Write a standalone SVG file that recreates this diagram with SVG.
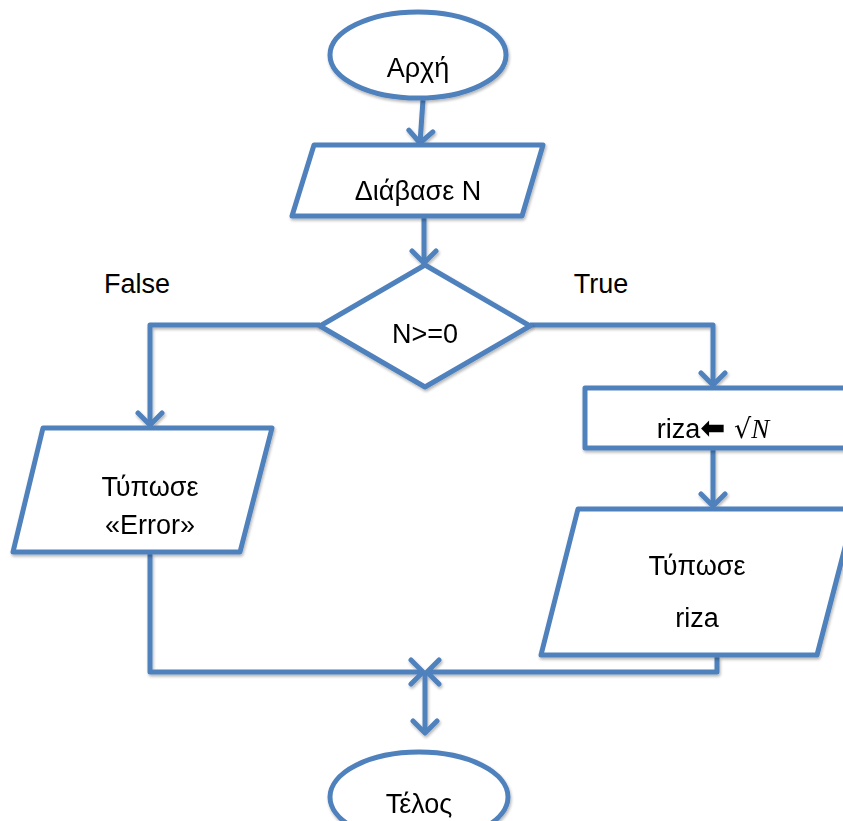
<svg xmlns="http://www.w3.org/2000/svg" width="843" height="821" viewBox="0 0 843 821">
<style>
.s{fill:#fff;stroke:#4f81bd;stroke-width:5;stroke-linejoin:round}
.c{fill:none;stroke:#4f81bd;stroke-width:5;stroke-linejoin:round}
text{font-family:"Liberation Sans","DejaVu Sans",sans-serif;font-size:27px;fill:#000;text-anchor:middle}
</style>
<defs>
<filter id="sh" x="-10%" y="-10%" width="130%" height="130%">
<feGaussianBlur in="SourceAlpha" stdDeviation="1.5"/>
<feOffset dx="1" dy="2" result="b"/>
<feComponentTransfer><feFuncA type="linear" slope="0.3"/></feComponentTransfer>
<feMerge><feMergeNode/><feMergeNode in="SourceGraphic"/></feMerge>
</filter>
<marker id="ah" markerUnits="userSpaceOnUse" markerWidth="30" markerHeight="30" refX="15" refY="15" orient="auto" viewBox="0 0 30 30">
<path d="M3,3 L15,15 L3,27" fill="none" stroke="#4f81bd" stroke-width="5" stroke-linecap="round" stroke-linejoin="round"/>
</marker>
</defs>
<g id="connectors" filter="url(#sh)">
<path class="c" d="M423,100 L420,143" marker-end="url(#ah)"/>
<path class="c" d="M424,218 L424,263" marker-end="url(#ah)"/>
<path class="c" d="M320,325 L150,325 L150,425" marker-end="url(#ah)"/>
<path class="c" d="M530,325 L713,325 L713,385" marker-end="url(#ah)"/>
<path class="c" d="M713,450 L713,506" marker-end="url(#ah)"/>
<path class="c" d="M150,554 L150,672 L423,672" marker-end="url(#ah)"/>
<path class="c" d="M717,657 L717,672 L427,672" marker-end="url(#ah)"/>
<path class="c" d="M425,672 L425,733" marker-end="url(#ah)"/>
</g>
<g id="start" filter="url(#sh)">
<ellipse class="s" cx="418" cy="55" rx="88" ry="43"/>
<text x="418" y="77">Αρχή</text>
</g>
<g id="read" filter="url(#sh)">
<polygon class="s" points="314,145 543,145 522,216 292,216"/>
<text x="418" y="200">Διάβασε N</text>
</g>
<g id="decision" filter="url(#sh)">
<polygon class="s" points="425,265 530,326 425,387 320,326"/>
<text x="425" y="343">N&gt;=0</text>
</g>
<text x="137" y="293">False</text>
<text x="601" y="293">True</text>
<g id="error" filter="url(#sh)">
<polygon class="s" points="43,428 272,428 240,552 13,552"/>
<text x="150" y="496">Τύπωσε</text>
<text x="150" y="534">«Error»</text>
</g>
<g id="assign" filter="url(#sh)">
<rect class="s" x="585" y="388" width="270" height="60"/>
<text x="713" y="438"><tspan>riza</tspan><tspan font-family="DejaVu Sans" font-weight="bold" font-size="30">⬅</tspan><tspan font-family="DejaVu Serif"> √</tspan><tspan font-family="Liberation Serif" font-style="italic">N</tspan></text>
</g>
<g id="print" filter="url(#sh)">
<polygon class="s" points="578,509 855,509 817,655 541,655"/>
<text x="697" y="575">Τύπωσε</text>
<text x="697" y="627">riza</text>
</g>
<g id="end" filter="url(#sh)">
<ellipse class="s" cx="419" cy="797" rx="89" ry="45"/>
<text x="419" y="813">Τέλος</text>
</g>
</svg>
